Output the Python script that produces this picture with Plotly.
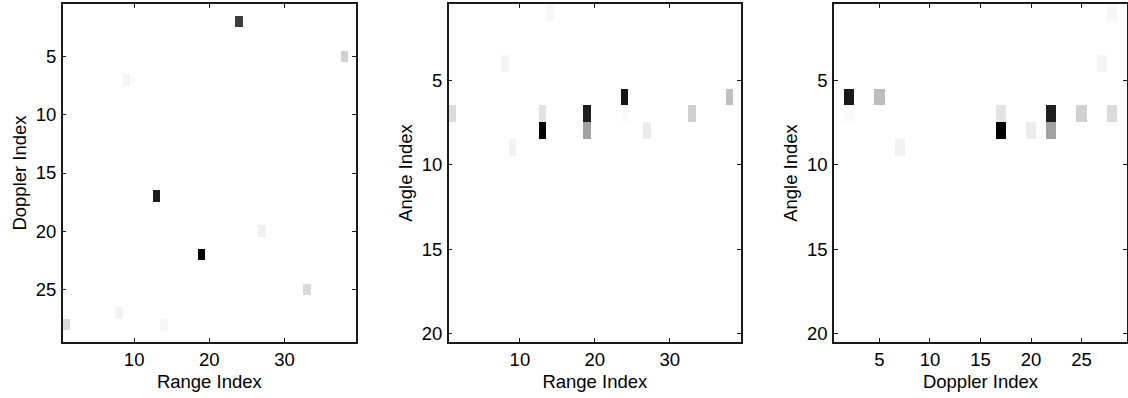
import numpy as np
import plotly.graph_objects as go

# ---------------- data ----------------
n_range = 39
n_doppler = 29
n_angle = 20

# Panel 1: Range (x) vs Doppler (y); intensity 0 (white) .. 1 (black)
rd_range = [24, 38, 9, 13, 27, 19, 33, 8, 1, 14]
rd_doppler = [2, 5, 7, 17, 20, 22, 25, 27, 28, 28]
rd_value = [0.76, 0.18, 0.045, 0.89, 0.06, 1.0, 0.15, 0.05, 0.14, 0.03]

# Panel 2: Range (x) vs Angle (y)
ra_range = [14, 8, 1, 13, 13, 9, 19, 19, 24, 24, 27, 33, 38]
ra_angle = [1, 4, 7, 7, 8, 9, 7, 8, 6, 7, 8, 7, 6]
ra_value = [0.03, 0.04, 0.14, 0.11, 1.0, 0.05, 0.88, 0.37, 0.92, 0.02, 0.075, 0.18, 0.25]

# Panel 3: Doppler (x) vs Angle (y)
da_doppler = [2, 2, 5, 7, 17, 17, 20, 22, 22, 25, 27, 28, 28]
da_angle = [6, 7, 6, 9, 7, 8, 8, 7, 8, 7, 4, 1, 7]
da_value = [0.9, 0.02, 0.26, 0.05, 0.11, 1.0, 0.075, 0.88, 0.37, 0.18, 0.04, 0.03, 0.14]

x1_ticks = [10, 20, 30]
y1_ticks = [5, 10, 15, 20, 25]
x2_ticks = [10, 20, 30]
y2_ticks = [5, 10, 15, 20]
x3_ticks = [5, 10, 15, 20, 25]
y3_ticks = [5, 10, 15, 20]


def grid(nx, ny, xs, ys, vs):
    z = np.zeros((ny, nx))
    for x, y, v in zip(xs, ys, vs):
        z[y - 1, x - 1] = v
    return z


z1 = grid(n_range, n_doppler, rd_range, rd_doppler, rd_value)
z2 = grid(n_range, n_angle, ra_range, ra_angle, ra_value)
z3 = grid(n_doppler, n_angle, da_doppler, da_angle, da_value)

cs = [[0, "#ffffff"], [1, "#000000"]]

fig = go.Figure()
panels = [
    (z1, np.arange(1, n_range + 1), np.arange(1, n_doppler + 1), "x", "y"),
    (z2, np.arange(1, n_range + 1), np.arange(1, n_angle + 1), "x2", "y2"),
    (z3, np.arange(1, n_doppler + 1), np.arange(1, n_angle + 1), "x3", "y3"),
]
for z, xv, yv, xa, ya in panels:
    fig.add_trace(go.Heatmap(z=z, x=xv, y=yv, colorscale=cs, zmin=0, zmax=1,
                             showscale=False, xaxis=xa, yaxis=ya,
                             hoverinfo="x+y+z"))

W, H = 1128, 398
ydom = [1 - 342 / H, 1 - 4 / H]
xdoms = [[62.7 / W, 356 / W],
         [448.7 / W, 741 / W],
         [834 / W, 1127 / W]]

font = dict(family="Liberation Sans, Arial, Helvetica, sans-serif", size=18.5, color="#000000")
axis_common = dict(showline=True, linecolor="#1a1a1a", linewidth=1.5, mirror="allticks",
                   ticks="inside", ticklen=4, tickwidth=1, tickcolor="#1a1a1a",
                   showgrid=False, zeroline=False, automargin=False,
                   tickfont=font, title_font=font)

xinfo = [
    (x1_ticks, [0.5, n_range + 0.5], "Range Index"),
    (x2_ticks, [0.5, n_range + 0.5], "Range Index"),
    (x3_ticks, [0.5, n_doppler + 0.5], "Doppler Index"),
]
yinfo = [
    (y1_ticks, [n_doppler + 0.5, 0.5], "Doppler Index"),
    (y2_ticks, [n_angle + 0.5, 0.5], "Angle Index"),
    (y3_ticks, [n_angle + 0.5, 0.5], "Angle Index"),
]

layout = dict(width=W, height=H, margin=dict(l=0, r=0, t=0, b=0),
              paper_bgcolor="white", plot_bgcolor="white", showlegend=False, font=font)
for i in range(3):
    sfx = "" if i == 0 else str(i + 1)
    xt, xr, xtitle = xinfo[i]
    yt, yr, ytitle = yinfo[i]
    layout["xaxis" + sfx] = dict(axis_common, domain=xdoms[i], range=xr, tickvals=xt,
                                 anchor="y" + sfx, title=dict(text=xtitle, standoff=6),
                                 ticklabelstandoff=0)
    layout["yaxis" + sfx] = dict(axis_common, domain=ydom, range=yr, tickvals=yt,
                                 anchor="x" + sfx, title=dict(text=ytitle, standoff=4),
                                 ticklabelstandoff=1)
fig.update_layout(**layout)

# remove the default 8px page margin so the figure starts at the window corner
fig.write_html("out.html", config={"displayModeBar": False},
               post_script="document.body.style.margin='0';")
